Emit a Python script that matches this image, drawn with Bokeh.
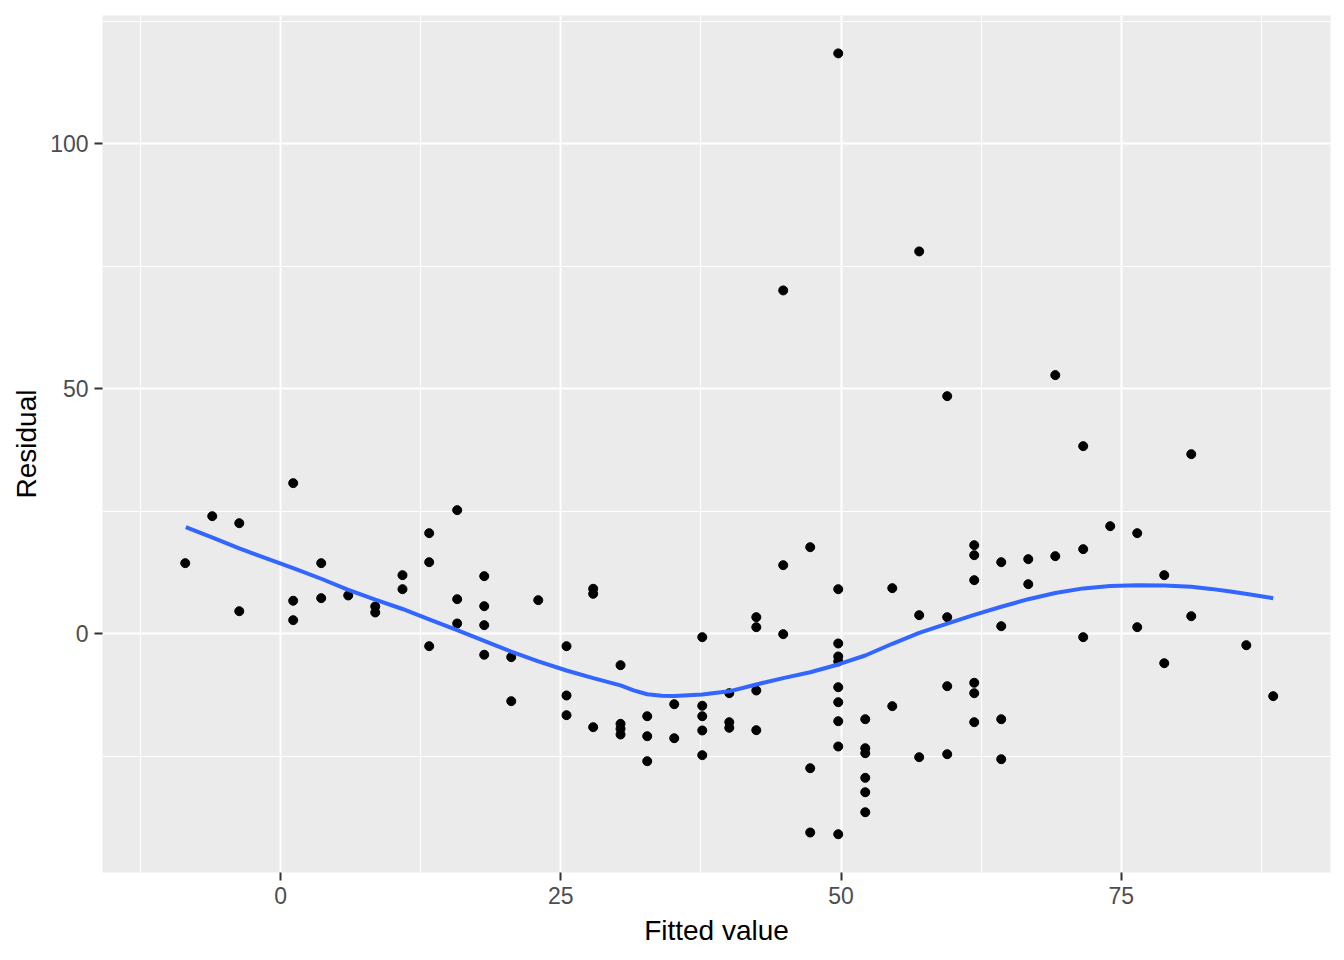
from bokeh.plotting import figure
from bokeh.models import FixedTicker, Range1d
from bokeh.embed import file_html
from bokeh.resources import INLINE

# Fitted values and residuals
fitted = [
    -8.50, -6.09, -3.68, -3.68, 1.13, 1.13, 1.13, 3.63, 3.63, 6.04,
    8.45, 8.45, 10.88, 10.88, 13.26, 13.26, 13.26, 15.76, 15.76, 15.76,
    18.17, 18.17, 18.17, 18.17, 20.58, 20.58, 22.99, 25.51, 25.51, 25.51,
    27.89, 27.89, 27.89, 30.33, 30.33, 30.33, 30.33, 32.71, 32.71, 32.71,
    35.12, 35.12, 37.62, 37.62, 37.62, 37.62, 37.62, 40.03, 40.03, 40.03,
    42.44, 42.44, 42.44, 42.44, 44.84, 44.84, 44.84, 47.25, 47.25, 47.25,
    49.75, 49.75, 49.75, 49.75, 49.75, 49.75, 49.75, 49.75, 49.75, 49.75,
    52.16, 52.16, 52.16, 52.16, 52.16, 52.16, 54.57, 54.57, 56.97, 56.97,
    56.97, 59.47, 59.47, 59.47, 59.47, 61.88, 61.88, 61.88, 61.88, 61.88,
    61.88, 64.29, 64.29, 64.29, 64.29, 66.70, 66.70, 69.11, 69.11, 71.60,
    71.60, 71.60, 74.01, 76.42, 76.42, 78.83, 78.83, 81.24, 81.24, 86.15,
    88.55,
]
residual = [
    14.45, 24.04, 22.61, 4.65, 30.78, 6.78, 2.82, 14.45, 7.31, 7.86,
    5.61, 4.39, 12.00, 9.14, 20.57, 14.65, -2.49, 25.27, 7.10, 2.14,
    11.80, 5.67, 1.80, -4.24, -4.73, -13.71, 6.90, -2.49, -12.55, -16.57,
    9.22, 8.20, -19.02, -6.37, -18.33, -19.35, -20.51, -16.78, -20.86, -25.96,
    -14.33, -21.27, -0.65, -14.65, -16.78, -19.69, -24.73, -12.08, -18.00, -19.14,
    3.43, 1.39, -11.53, -19.63, 70.10, 14.04, -0.04, 17.71, -27.39, -40.51,
    118.47, 9.14, -1.94, -4.59, -5.61, -10.86, -13.92, -17.80, -22.96, -40.86,
    -17.39, -23.31, -24.33, -29.35, -32.29, -36.37, 9.35, -14.73, 78.06, 3.84,
    -25.14, 48.53, 3.43, -10.65, -24.53, 18.12, 16.08, 10.98, -9.96, -12.08,
    -18.00, 14.65, 1.59, -17.39, -25.55, 15.27, 10.16, 52.82, 15.88, 38.33,
    17.31, -0.65, 22.00, 20.57, 1.39, 12.00, -5.96, 36.69, 3.63, -2.29,
    -12.69,
]

# Loess smooth curve
smooth_x = [-8.45, -6.0, -3.68, -1.2, 1.13, 3.63, 6.04, 8.45, 10.88, 13.26,
            15.76, 18.17, 20.58, 23.0, 25.51, 27.9, 30.33, 31.5, 32.71, 34.0,
            35.12, 37.62, 40.03, 42.44, 44.84, 47.25, 49.75, 52.16, 54.57, 56.97,
            59.47, 61.88, 64.29, 66.70, 69.11, 71.60, 74.01, 76.42, 78.83, 81.24,
            83.0, 84.74, 86.5, 88.55]
smooth_y = [21.80, 19.60, 17.45, 15.40, 13.43, 11.27, 9.02, 7.00, 5.10, 3.00,
            0.80, -1.40, -3.60, -5.60, -7.45, -9.00, -10.50, -11.50, -12.30, -12.60,
            -12.65, -12.35, -11.70, -10.30, -9.00, -7.80, -6.22, -4.39, -2.00, 0.24,
            2.10, 3.90, 5.55, 7.10, 8.35, 9.30, 9.80, 9.95, 9.90, 9.65,
            9.20, 8.65, 8.05, 7.31]

x_ticks = [0, 25, 50, 75]
x_minor = [-12.5, 12.5, 37.5, 62.5, 87.5]
y_ticks = [0, 50, 100]
y_minor = [-25, 25, 75, 125]

p = figure(width=1344, height=960, output_backend="svg", toolbar_location=None,
           x_range=Range1d(-15.88, 93.66), y_range=Range1d(-48.67, 126.2),
           min_border_left=102, min_border_right=14, min_border_top=15,
           min_border_bottom=88)

p.background_fill_color = "#EBEBEB"
p.border_fill_color = "white"
p.outline_line_color = None

p.xaxis.ticker = FixedTicker(ticks=x_ticks, minor_ticks=x_minor)
p.yaxis.ticker = FixedTicker(ticks=y_ticks, minor_ticks=y_minor)

for g in (p.xgrid, p.ygrid):
    g.grid_line_color = "white"
    g.grid_line_width = 2
    g.minor_grid_line_color = "white"
    g.minor_grid_line_width = 1

for ax in (p.xaxis, p.yaxis):
    ax.axis_line_color = None
    ax.major_tick_line_color = "#333333"
    ax.major_tick_line_width = 2
    ax.major_tick_out = 8
    ax.major_tick_in = 0
    ax.minor_tick_line_color = None
    ax.major_label_text_font = "Liberation Sans"
    ax.major_label_text_font_size = "23px"
    ax.major_label_text_color = "#4D4D4D"
    ax.major_label_standoff = 6
    ax.axis_label_text_font = "Liberation Sans"
    ax.axis_label_text_font_size = "28px"
    ax.axis_label_text_font_style = "normal"
    ax.axis_label_text_color = "black"

p.xaxis.axis_label = "Fitted value"
p.yaxis.axis_label = "Residual"
p.xaxis.axis_label_standoff = 8
p.yaxis.axis_label_standoff = 5

p.scatter(fitted, residual, size=9, color="black", line_color="black")
p.line(smooth_x, smooth_y, line_color="#3366FF", line_width=4)

open("out.html", "w").write(file_html(p, INLINE))
